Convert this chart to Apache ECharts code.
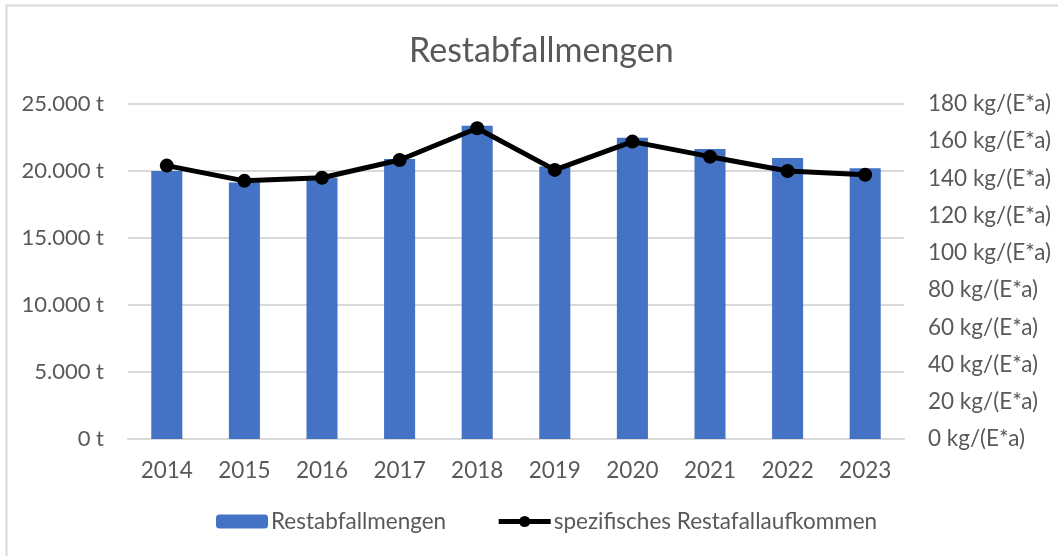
<!DOCTYPE html>
<html><head><meta charset="utf-8">
<script src="https://cdn.jsdelivr.net/npm/echarts@6/dist/echarts.min.js"></script>
<style>html,body{margin:0;padding:0;background:#fff}#c{width:1059px;height:556px}</style>
</head><body><div id="c"></div>
<script>
const years = ['2014','2015','2016','2017','2018','2019','2020','2021','2022','2023'];
const restabfall = [20000, 19150, 19500, 20900, 23380, 20330, 22480, 21640, 20970, 20200];
const spezifisch = [146.9, 138.7, 140.4, 149.9, 167.0, 144.6, 159.8, 151.7, 144.0, 142.0];
const seriesNames = ['Restabfallmengen', 'spezifisches Restafallaufkommen'];
const titleText = 'Restabfallmengen';

const FONT = 'Lato';
const TXT = '#595959';
const chart = echarts.init(document.getElementById('c'), null, {renderer:'canvas'});
function fmtT(v){ return String(v).replace(/\B(?=(\d{3})+(?!\d))/g, '.') + ' t'; }
chart.setOption({
  animation:false,
  backgroundColor:'#fff',
  textStyle:{fontFamily:FONT},
  title:{text:titleText,left:404,top:29,textStyle:{fontFamily:FONT,fontSize:34,fontWeight:'normal',color:TXT}},
  graphic:[
    {type:'line',shape:{x1:6.5,y1:5,x2:6.5,y2:556},style:{stroke:'#d9d9d9',lineWidth:2}},
    {type:'line',shape:{x1:6,y1:5.5,x2:1058,y2:5.5},style:{stroke:'#d9d9d9',lineWidth:2}}
  ],
  legend:{
    bottom:18,left:211,itemWidth:52,itemHeight:14,itemGap:50,
    lineStyle:{width:5},
    textStyle:{fontFamily:FONT,fontSize:22.5,color:TXT,padding:[0,0,0,-2]},
    data:seriesNames
  },
  grid:{left:128,right:155,top:104,bottom:117,containLabel:false},
  xAxis:{type:'category',data:years,
    axisLine:{lineStyle:{color:'#d9d9d9',width:2}},axisTick:{show:false},
    axisLabel:{fontFamily:FONT,fontSize:22.5,color:TXT,margin:20}},
  yAxis:[
    {type:'value',min:0,max:25000,interval:5000,
     axisLabel:{fontFamily:FONT,fontSize:22,color:TXT,margin:24,formatter:fmtT},
     splitLine:{lineStyle:{color:'#d9d9d9',width:2}},axisLine:{show:false},axisTick:{show:false}},
    {type:'value',min:0,max:180,interval:20,position:'right',
     axisLabel:{fontFamily:FONT,fontSize:22.5,color:TXT,margin:24,formatter:'{value} kg/(E*a)'},
     splitLine:{show:false},axisLine:{show:false},axisTick:{show:false}}
  ],
  series:[
    {name:seriesNames[0],type:'bar',data:restabfall,barWidth:'40%',itemStyle:{color:'#4472C4'}},
    {name:seriesNames[1],type:'line',yAxisIndex:1,data:spezifisch,symbol:'circle',symbolSize:14,
     lineStyle:{color:'#000',width:5},itemStyle:{color:'#000'}}
  ]
});
</script></body></html>
